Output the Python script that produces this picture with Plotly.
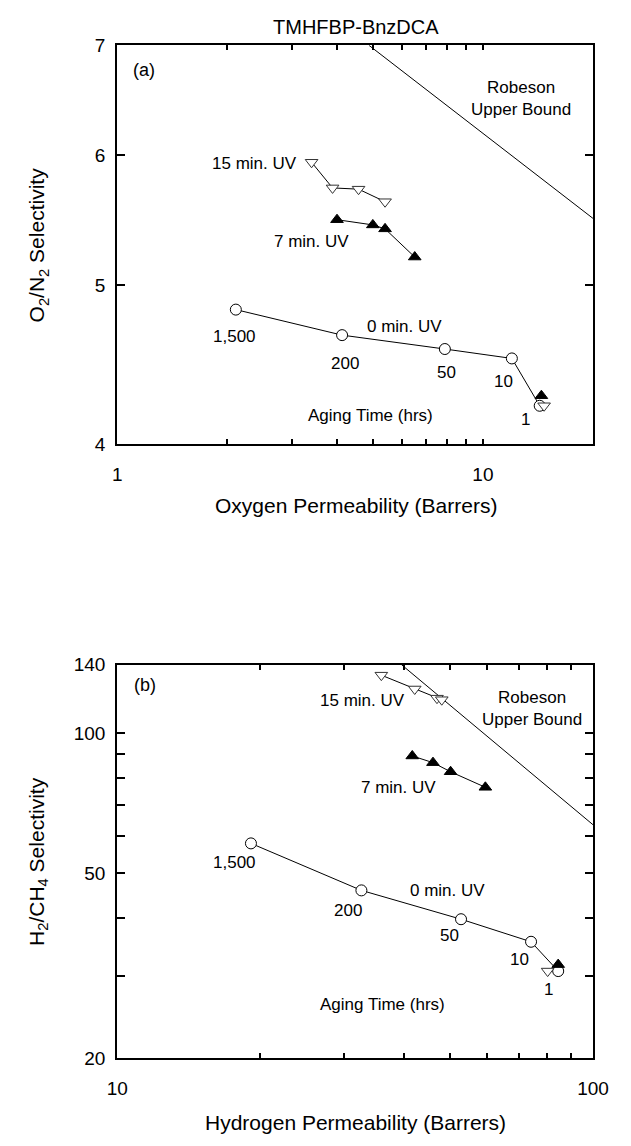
import math
import plotly.graph_objects as go

W, H = 631, 1146
FONT = "Liberation Sans, Arial, Helvetica, sans-serif"

# ---- (a) O2/N2 : oxygen permeability (Barrers) vs selectivity ----
a_perm_0uv = [2.11, 4.12, 7.87, 12.0, 14.3]
a_sel_0uv = [4.83, 4.66, 4.57, 4.51, 4.22]
a_perm_7uv = [3.99, 5.00, 5.40, 6.51]
a_sel_7uv = [5.48, 5.44, 5.41, 5.20]
a_perm_15uv = [3.40, 3.88, 4.57, 5.40]
a_sel_15uv = [5.94, 5.73, 5.72, 5.62]
a_perm_7uv_1h = [14.45]
a_sel_7uv_1h = [4.28]
a_perm_15uv_1h = [14.7]
a_sel_15uv_1h = [4.22]
a_robeson_perm = [4.88, 20.0]
a_robeson_sel = [7.0, 5.49]

# ---- (b) H2/CH4 : hydrogen permeability (Barrers) vs selectivity ----
b_perm_0uv = [19.1, 32.6, 52.8, 74.1, 84.5]
b_sel_0uv = [57.9, 45.9, 39.8, 35.6, 30.8]
b_perm_7uv = [41.7, 46.1, 50.2, 59.4]
b_sel_7uv = [89.2, 86.3, 82.5, 76.4]
b_perm_15uv = [35.9, 42.2, 47.0, 48.1]
b_sel_15uv = [133.0, 124.2, 118.7, 117.8]
b_perm_7uv_1h = [84.5]
b_sel_7uv_1h = [31.8]
b_perm_15uv_1h = [80.3]
b_sel_15uv_1h = [30.8]
b_robeson_perm = [39.6, 100.0]
b_robeson_sel = [140.0, 63.5]

# labelled ticks and unlabelled (minor) ticks
a_xticks = [1, 10]
a_xminor = [2, 3, 4, 5, 6, 7, 8, 9, 10]
a_yticks = [4, 5, 6, 7]
b_xticks = [10, 100]
b_xminor = [20, 30, 40, 50, 60, 70, 80, 90]
b_yticks = [20, 50, 100, 140]
b_yminor = [30, 40, 60, 70, 80, 90, 100]


def px(x, y):
    """pixel position -> paper coordinates"""
    return x / W, 1 - y / H


fig = go.Figure()

line_style = dict(color="black", width=1)
open_circle = dict(symbol="circle", size=11, color="white",
                   line=dict(color="black", width=1))
filled_tri = dict(symbol="triangle-up", size=11, color="black",
                  line=dict(color="black", width=1))
open_tri = dict(symbol="triangle-down", size=11, color="white",
                line=dict(color="#333333", width=1))


def add_panel(xa, ya, rob_x, rob_y, p0, s0, p7, s7, p15, s15,
              p7h, s7h, p15h, s15h):
    kw = dict(xaxis=xa, yaxis=ya, showlegend=False, hoverinfo="skip")
    fig.add_trace(go.Scatter(x=rob_x, y=rob_y, mode="lines",
                             line=line_style, **kw))
    fig.add_trace(go.Scatter(x=p15, y=s15, mode="lines+markers",
                             line=line_style, marker=open_tri, **kw))
    fig.add_trace(go.Scatter(x=p7, y=s7, mode="lines+markers",
                             line=line_style, marker=filled_tri, **kw))
    fig.add_trace(go.Scatter(x=p0, y=s0, mode="lines+markers",
                             line=line_style, marker=open_circle, **kw))
    fig.add_trace(go.Scatter(x=p15h, y=s15h, mode="markers",
                             marker=open_tri, **kw))
    fig.add_trace(go.Scatter(x=p7h, y=s7h, mode="markers",
                             marker=filled_tri, **kw))


add_panel("x", "y", a_robeson_perm, a_robeson_sel,
          a_perm_0uv, a_sel_0uv, a_perm_7uv, a_sel_7uv,
          a_perm_15uv, a_sel_15uv,
          a_perm_7uv_1h, a_sel_7uv_1h, a_perm_15uv_1h, a_sel_15uv_1h)
add_panel("x2", "y2", b_robeson_perm, b_robeson_sel,
          b_perm_0uv, b_sel_0uv, b_perm_7uv, b_sel_7uv,
          b_perm_15uv, b_sel_15uv,
          b_perm_7uv_1h, b_sel_7uv_1h, b_perm_15uv_1h, b_sel_15uv_1h)

axis_common = dict(
    type="log", showgrid=False, zeroline=False,
    showline=True, linecolor="black", linewidth=2, mirror="ticks",
    ticks="inside", tickcolor="black", tickwidth=1.5, tickmode="array",
    tickfont=dict(family=FONT, size=19, color="black"),
)


def minor(vals, length):
    return dict(tickmode="array", tickvals=vals, ticks="inside",
                ticklen=length, tickcolor="black", tickwidth=1.5,
                showgrid=False)


x_dom = [111 / W, 608 / W]
fig.update_layout(
    width=W, height=H,
    margin=dict(l=0, r=0, t=0, b=0),
    paper_bgcolor="white", plot_bgcolor="white",
    font=dict(family=FONT, color="black"),
    xaxis=dict(axis_common, domain=x_dom, anchor="y",
               range=[0, math.log10(20)], tickvals=a_xticks,
               ticktext=[str(v) for v in a_xticks], ticklen=0,
               minor=minor(a_xminor, 5), ticklabelstandoff=12),
    yaxis=dict(axis_common, domain=[1 - 442 / H, 1 - 36 / H], anchor="x",
               range=[math.log10(4), math.log10(7)], tickvals=a_yticks,
               ticktext=[str(v) for v in a_yticks], ticklen=8,
               ticklabelstandoff=6),
    xaxis2=dict(axis_common, domain=x_dom, anchor="y2",
                range=[1, 2], tickvals=b_xticks,
                ticktext=[str(v) for v in b_xticks], ticklen=0,
                minor=minor(b_xminor, 5), ticklabelstandoff=12),
    yaxis2=dict(axis_common, domain=[1 - 1068 / H, 1 - 667 / H], anchor="x2",
                range=[math.log10(20), math.log10(140)], tickvals=b_yticks,
                ticktext=[str(v) for v in b_yticks], ticklen=8,
                minor=minor(b_yminor, 8), ticklabelstandoff=6),
)


def label(text, x, y, size=17, **extra):
    xp, yp = px(x, y)
    fig.add_annotation(text=text, x=xp, y=yp, xref="paper", yref="paper",
                       showarrow=False, xanchor="center", yanchor="middle",
                       font=dict(family=FONT, size=size, color="black"),
                       **extra)


# titles
label("TMHFBP-BnzDCA", 360, 17, size=20)
label("Oxygen Permeability (Barrers)", 360, 505, size=21)
label("Hydrogen Permeability (Barrers)", 360, 1133, size=21)
label("O<sub>2</sub>/N<sub>2</sub> Selectivity", 28, 239, size=21,
      textangle=-90)
label("H<sub>2</sub>/CH<sub>4</sub> Selectivity", 28, 867, size=21,
      textangle=-90)

# panel (a) text
label("(a)", 139, 61, size=18)
label("Robeson<br>Upper Bound", 533, 90)
label("15 min. UV", 254, 156)
label("7 min. UV", 314, 236)
label("0 min. UV", 411, 322)
label("1,500", 233, 333)
label("200", 349, 360)
label("50", 455, 369)
label("10", 514, 378)
label("1", 537, 417)
label("Aging Time (hrs)", 376, 413)

# panel (b) text
label("(b)", 140, 688, size=18)
label("Robeson<br>Upper Bound", 544, 712)
label("15 min. UV", 367, 703)
label("7 min. UV", 405, 792)
label("0 min. UV", 456, 897)
label("1,500", 233, 868)
label("200", 352, 917)
label("50", 458, 943)
label("10", 531, 967)
label("1", 562, 998)
label("Aging Time (hrs)", 388, 1013)

fig.write_html("out.html")
